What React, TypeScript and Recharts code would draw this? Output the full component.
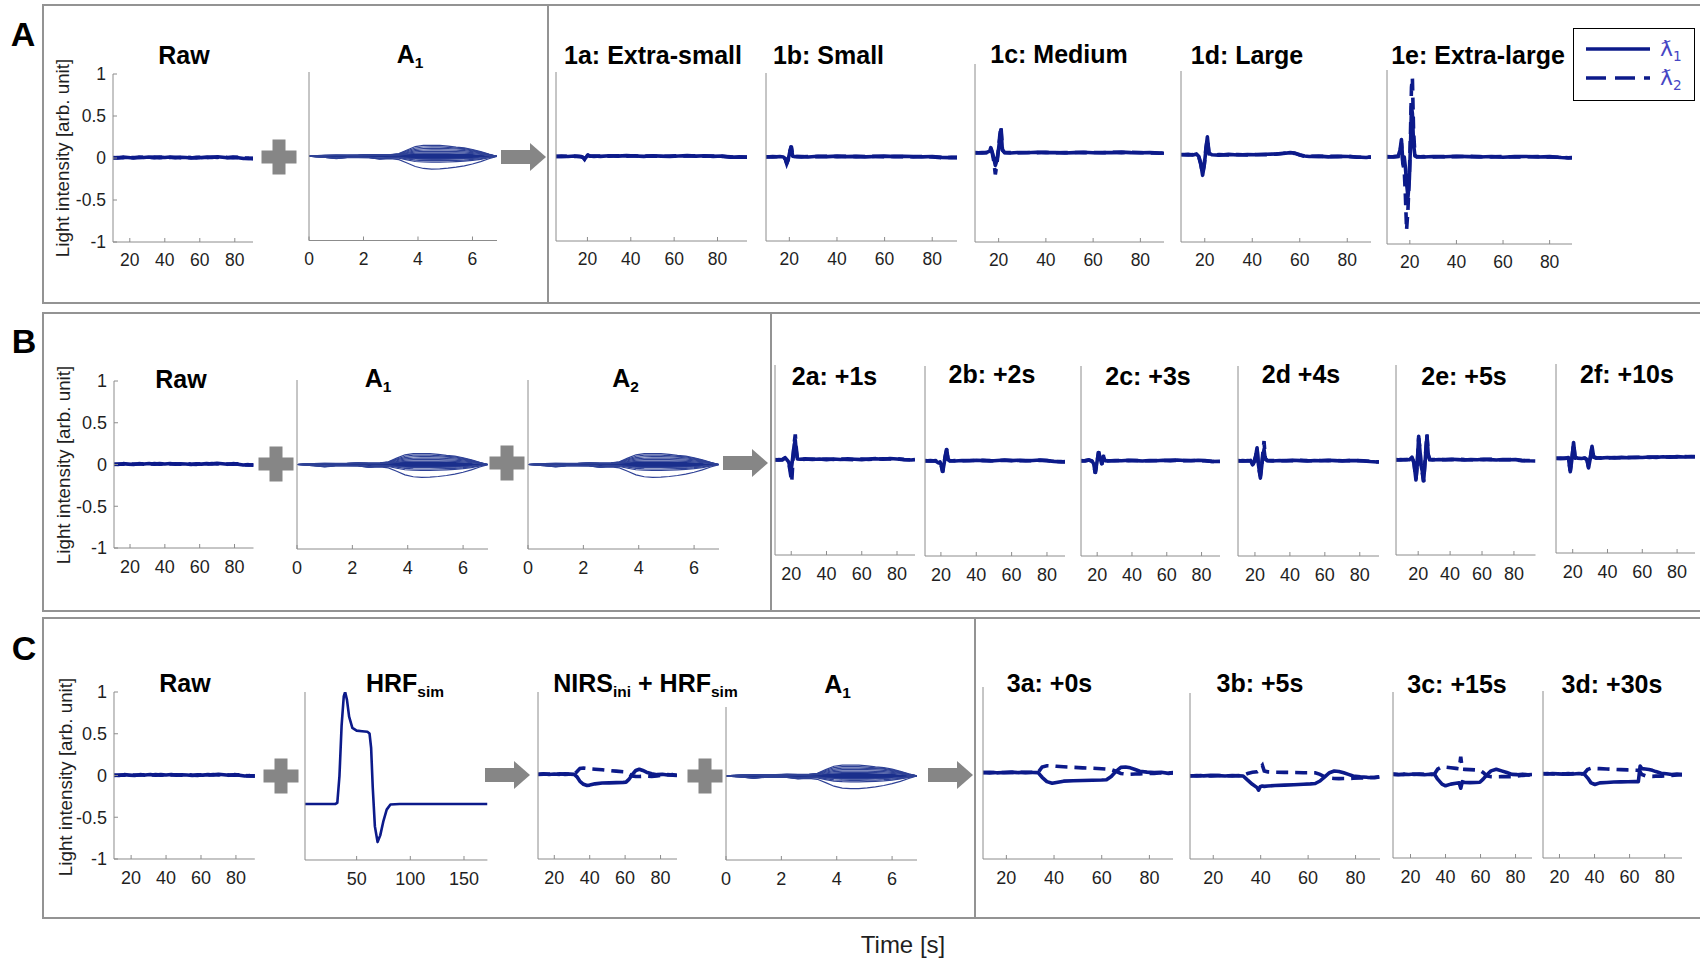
import React from 'react';
import { ComposedChart, Line, Area, XAxis, YAxis } from 'recharts';

const FONT = '"Liberation Sans", Arial, Helvetica, sans-serif';
const INK = '#0c1a8a';
const ENV_LINE = '#2f4296';
const ENV_CORE = '#1a2f8c';
const AXIS = '#8c8c8c';
const TICK_INK = '#1f1f1f';
const DECOR = '#868686';

// plot-area padding around each small axis box
const YW = 44;
const RM = 8;
const TM = 16;
const XH = 38;

const TICKS_20 = [20, 40, 60, 80];
const TICKS_A = [0, 2, 4, 6];
const TICKS_HRF = [50, 100, 150];
const Y_TICKS = [-1, -0.5, 0, 0.5, 1];

// ---- raw light intensity (same recording in rows A, B, C)
const RAW_T = [10, 13, 16, 19, 22, 25, 28, 31, 34, 37, 40, 43, 46, 49, 52, 55, 58, 61, 64, 67, 70, 73, 76, 79, 82, 85, 88, 91];
const RAW_L1 = [0.005, 0.0, 0.01, 0.005, 0.0, 0.01, 0.005, 0.012, 0.004, 0.01, 0.006, 0.012, 0.003, 0.009, 0.006, 0.0, 0.008, 0.004, 0.01, 0.006, 0.014, 0.008, 0.002, 0.01, 0.004, -0.006, -0.002, -0.008];
const RAW_L2 = [0.0, 0.006, 0.004, 0.01, 0.004, 0.006, 0.01, 0.004, 0.01, 0.004, 0.01, 0.006, 0.008, 0.004, 0.01, 0.004, 0.002, 0.01, 0.006, 0.012, 0.008, 0.01, 0.006, 0.004, 0.008, 0.0, -0.006, -0.004];

// ---- motion artifact amplitude A1 / A2 (time in s)
const A1_T = [0, 0.3, 0.6, 1.0, 1.4, 1.8, 2.2, 2.6, 3.0, 3.3, 3.6, 3.9, 4.2, 4.5, 4.8, 5.1, 5.4, 5.7, 6.0, 6.3, 6.6, 6.9];
const A1_U1 = [0, 0.008, 0.012, 0.014, 0.013, 0.015, 0.021, 0.018, 0.02, 0.032, 0.075, 0.115, 0.128, 0.13, 0.128, 0.12, 0.108, 0.1, 0.08, 0.055, 0.025, 0];
const A1_U2 = [0, 0.007, 0.011, 0.013, 0.012, 0.014, 0.019, 0.016, 0.018, 0.028, 0.064, 0.098, 0.11, 0.112, 0.111, 0.105, 0.097, 0.09, 0.072, 0.049, 0.022, 0];
const A1_U3 = [0, 0.006, 0.01, 0.012, 0.011, 0.012, 0.017, 0.014, 0.016, 0.024, 0.054, 0.082, 0.092, 0.094, 0.094, 0.09, 0.086, 0.08, 0.064, 0.043, 0.019, 0];
const A1_U4 = [0, 0.005, 0.009, 0.01, 0.01, 0.011, 0.015, 0.012, 0.014, 0.02, 0.044, 0.066, 0.074, 0.076, 0.076, 0.074, 0.071, 0.066, 0.054, 0.037, 0.016, 0];
const A1_U5 = [0, 0.005, 0.008, 0.009, 0.009, 0.01, 0.013, 0.011, 0.012, 0.017, 0.035, 0.051, 0.057, 0.058, 0.058, 0.057, 0.055, 0.051, 0.043, 0.03, 0.013, 0];
const A1_U6 = [0, 0.004, 0.007, 0.008, 0.008, 0.009, 0.011, 0.01, 0.011, 0.014, 0.026, 0.036, 0.04, 0.041, 0.041, 0.04, 0.039, 0.036, 0.031, 0.022, 0.01, 0];
const A1_D1 = [0, -0.006, -0.011, -0.019, -0.012, -0.01, -0.012, -0.021, -0.014, -0.014, -0.022, -0.03, -0.034, -0.035, -0.035, -0.034, -0.032, -0.03, -0.026, -0.019, -0.01, 0];
const A1_D2 = [0, -0.007, -0.013, -0.023, -0.014, -0.012, -0.014, -0.027, -0.018, -0.018, -0.032, -0.046, -0.051, -0.053, -0.053, -0.051, -0.049, -0.045, -0.038, -0.028, -0.014, 0];
const A1_D3 = [0, -0.008, -0.014, -0.026, -0.015, -0.013, -0.016, -0.031, -0.022, -0.024, -0.044, -0.062, -0.068, -0.07, -0.07, -0.068, -0.064, -0.058, -0.049, -0.036, -0.018, 0];
const A1_D4 = [0, -0.008, -0.015, -0.028, -0.016, -0.014, -0.017, -0.034, -0.028, -0.04, -0.08, -0.122, -0.145, -0.152, -0.15, -0.142, -0.13, -0.114, -0.092, -0.064, -0.03, 0];
const A1_LO = [0, -0.007, -0.012, -0.016, -0.013, -0.012, -0.013, -0.017, -0.015, -0.016, -0.025, -0.034, -0.039, -0.041, -0.041, -0.039, -0.036, -0.032, -0.026, -0.018, -0.009, 0];
const A1_HI = [0, 0.007, 0.011, 0.013, 0.012, 0.012, 0.016, 0.014, 0.015, 0.018, 0.026, 0.032, 0.035, 0.036, 0.036, 0.035, 0.033, 0.03, 0.026, 0.018, 0.009, 0];

// ---- 1a-1e: artifact size
const P1A_T = [5, 8, 11, 14, 16, 17, 18, 18.7, 19.5, 20.2, 21, 23, 26, 30, 34, 38, 42, 46, 50, 54, 58, 62, 66, 70, 74, 78, 82, 86, 90, 94];
const P1A_L1 = [0.0, 0.004, 0.0, 0.006, 0.002, 0.0, -0.01, -0.032, -0.005, 0.02, 0.004, 0.006, 0.002, 0.008, 0.004, 0.01, 0.006, 0.002, 0.008, 0.004, 0.0, 0.006, 0.01, 0.004, 0.008, 0.002, 0.006, -0.008, -0.004, -0.01];
const P1A_L2 = [0.002, 0.0, 0.004, 0.002, 0.0, -0.004, -0.012, -0.036, -0.008, 0.024, 0.006, 0.002, 0.006, 0.004, 0.008, 0.004, 0.008, 0.004, 0.006, 0.002, 0.004, 0.008, 0.006, 0.008, 0.004, 0.006, 0.002, -0.004, -0.008, -0.006];

const P1B_T = [10, 13, 16, 17.5, 18.3, 18.9, 19.5, 20.2, 20.8, 21.4, 22.5, 25, 28, 32, 36, 40, 44, 48, 52, 56, 60, 64, 68, 72, 76, 80, 84, 88, 90.5];
const P1B_L1 = [0.004, 0.0, 0.006, 0.0, -0.02, -0.075, -0.03, 0.06, 0.12, 0.01, 0.004, 0.006, 0.0, 0.008, 0.004, 0.01, 0.004, 0.008, 0.002, 0.006, 0.01, 0.004, 0.008, 0.006, 0.002, 0.006, -0.004, -0.008, -0.004];
const P1B_L2 = [0.0, 0.004, 0.002, -0.004, -0.025, -0.08, -0.035, 0.07, 0.13, 0.015, 0.006, 0.002, 0.006, 0.004, 0.008, 0.004, 0.008, 0.004, 0.006, 0.008, 0.004, 0.008, 0.004, 0.002, 0.006, 0.002, -0.008, -0.004, -0.008];

const P1C_T = [10, 13, 15, 16.2, 16.7, 17.3, 18, 18.6, 19.3, 20, 20.5, 21, 21.6, 22.5, 25, 28, 32, 36, 40, 44, 48, 52, 56, 60, 64, 68, 72, 76, 80, 84, 88, 90];
const P1C_L1 = [0.0, 0.004, 0.006, 0.02, 0.06, 0.01, -0.06, -0.14, -0.08, 0.05, 0.16, 0.26, 0.03, 0.004, 0.0, 0.006, 0.002, 0.008, 0.004, 0.006, 0.0, 0.004, 0.008, 0.002, 0.006, 0.004, 0.01, 0.004, 0.002, 0.006, 0.0, -0.002];
const P1C_L2 = [0.004, 0.0, 0.004, 0.015, 0.05, 0.0, -0.1, -0.24, -0.12, 0.06, 0.2, 0.3, 0.04, 0.006, 0.004, 0.002, 0.006, 0.004, 0.008, 0.002, 0.004, 0.006, 0.004, 0.006, 0.002, 0.008, 0.004, 0.008, 0.004, 0.002, -0.002, 0.0];

const P1D_T = [10, 13, 15, 16.5, 17.5, 18.3, 19.1, 19.8, 20.5, 21.1, 21.8, 23, 26, 30, 34, 38, 42, 46, 50, 53, 56, 58, 60, 62, 64, 68, 72, 76, 80, 84, 88, 90];
const P1D_L1 = [0.02, 0.025, 0.018, 0.03, 0.0, -0.08, -0.22, -0.1, 0.08, 0.23, 0.04, 0.02, 0.015, 0.025, 0.018, 0.022, 0.02, 0.026, 0.03, 0.035, 0.045, 0.04, 0.02, 0.005, 0.0, 0.004, -0.004, 0.002, 0.0, -0.006, -0.012, -0.004];
const P1D_L2 = [0.024, 0.018, 0.022, 0.025, -0.005, -0.09, -0.2, -0.09, 0.1, 0.21, 0.03, 0.018, 0.022, 0.018, 0.024, 0.018, 0.024, 0.022, 0.028, 0.038, 0.042, 0.036, 0.016, 0.002, 0.004, 0.0, 0.002, -0.002, 0.004, -0.008, -0.01, -0.008];

const P1E_T = [10, 13, 15, 15.8, 16.4, 17, 17.6, 18.1, 18.6, 19.2, 19.8, 20.3, 20.7, 21.1, 21.6, 22.2, 23, 26, 30, 35, 40, 45, 50, 55, 60, 65, 70, 75, 80, 85, 88, 90];
const P1E_L1 = [0.0, 0.004, 0.01, 0.08, 0.2, -0.06, 0.0, -0.12, -0.3, -0.46, -0.25, 0.15, 0.58, 0.5, 0.15, 0.01, 0.004, 0.0, 0.006, 0.002, 0.008, 0.004, 0.0, 0.006, -0.002, 0.004, 0.006, 0.0, 0.004, -0.006, -0.01, -0.006];
const P1E_L2 = [0.004, 0.0, 0.006, 0.06, 0.16, -0.08, -0.15, -0.45, -0.84, -0.6, -0.2, 0.3, 0.8, 0.91, 0.3, 0.02, 0.0, 0.004, 0.002, 0.006, 0.004, 0.008, 0.004, 0.002, 0.004, 0.0, 0.002, 0.004, 0.0, -0.004, -0.008, -0.008];

// ---- 2a-2f: second artifact delay
const P2A_T = [10.8, 13, 15, 16.5, 17.5, 18.5, 19.2, 19.7, 20.3, 21, 21.7, 22.3, 22.8, 23.5, 25, 28, 32, 36, 40, 44, 48, 52, 56, 60, 64, 68, 72, 76, 80, 84, 88, 90.2];
const P2A_L1 = [0.004, 0.0, 0.006, 0.025, 0.004, -0.02, -0.07, -0.12, -0.06, 0.05, 0.16, 0.21, 0.1, 0.01, 0.008, 0.012, 0.006, 0.01, 0.004, 0.01, 0.006, 0.012, 0.008, 0.004, 0.01, 0.014, 0.008, 0.016, 0.01, 0.004, 0.0, 0.004];
const P2A_L2 = [0.0, 0.004, 0.002, 0.02, 0.0, -0.03, -0.1, -0.16, -0.23, 0.0, 0.18, 0.27, 0.14, 0.012, 0.004, 0.008, 0.01, 0.006, 0.01, 0.006, 0.01, 0.006, 0.004, 0.01, 0.006, 0.01, 0.012, 0.01, 0.014, 0.006, 0.002, 0.0];

const P2B_T = [11, 14, 17, 18.5, 19.5, 20.3, 21, 21.7, 22.5, 23.3, 24, 25, 28, 32, 36, 40, 44, 48, 52, 56, 60, 64, 68, 72, 76, 80, 84, 88, 90.2];
const P2B_L1 = [0.0, 0.004, 0.0, -0.02, -0.01, -0.05, -0.11, -0.04, 0.05, 0.12, 0.02, 0.004, 0.0, 0.006, 0.002, 0.008, 0.004, 0.0, 0.006, 0.01, 0.004, 0.008, 0.002, 0.006, 0.01, 0.004, -0.004, -0.01, -0.006];
const P2B_L2 = [0.004, 0.0, 0.004, -0.015, -0.015, -0.06, -0.12, -0.03, 0.06, 0.13, 0.015, 0.0, 0.004, 0.002, 0.006, 0.004, 0.008, 0.004, 0.002, 0.008, 0.006, 0.004, 0.006, 0.002, 0.008, 0.006, -0.006, -0.006, -0.01];

const P2C_T = [10.7, 13, 15.3, 17, 18, 18.9, 19.8, 20.8, 21.8, 22.7, 23.6, 24.5, 26, 30, 34, 38, 42, 46, 50, 54, 58, 62, 66, 70, 74, 78, 82, 86, 90.6];
const P2C_L1 = [0.0, 0.004, 0.012, 0.0, -0.03, -0.12, -0.02, 0.09, 0.02, -0.03, 0.05, 0.004, 0.0, 0.006, 0.002, 0.008, 0.004, 0.0, 0.006, 0.002, 0.008, 0.004, 0.01, 0.006, 0.002, 0.008, 0.004, -0.006, -0.004];
const P2C_L2 = [0.004, 0.0, 0.01, -0.004, -0.035, -0.13, -0.03, 0.1, 0.025, -0.035, 0.06, 0.006, 0.004, 0.002, 0.006, 0.004, 0.006, 0.004, 0.002, 0.006, 0.004, 0.008, 0.006, 0.004, 0.006, 0.004, 0.002, -0.004, -0.008];

const P2D_T = [10.3, 13, 16, 17.5, 18.6, 19.6, 20.5, 21.2, 22, 23.1, 23.9, 24.6, 25.2, 25.9, 27, 30, 34, 38, 42, 46, 50, 54, 58, 62, 66, 70, 74, 78, 82, 86, 90, 91];
const P2D_L1 = [0.0, 0.004, 0.0, 0.006, -0.04, 0.0, 0.06, 0.14, -0.04, -0.18, -0.05, 0.06, 0.12, 0.02, 0.004, 0.0, 0.006, 0.002, 0.008, 0.004, 0.0, 0.006, 0.002, 0.008, 0.004, 0.0, 0.006, 0.004, 0.0, -0.006, -0.01, -0.008];
const P2D_L2 = [0.004, 0.0, 0.004, 0.002, -0.05, -0.01, 0.05, 0.13, -0.06, -0.16, -0.03, 0.1, 0.21, 0.03, 0.006, 0.004, 0.002, 0.006, 0.004, 0.008, 0.004, 0.002, 0.006, 0.004, 0.008, 0.002, 0.004, 0.006, 0.002, -0.004, -0.008, -0.01];

const P2E_T = [6, 9, 12, 14.5, 16.1, 17.3, 18.6, 19.4, 20.3, 21.1, 21.8, 22.6, 23.4, 24.4, 25.5, 26.3, 27.2, 29, 33, 37, 41, 45, 49, 53, 57, 61, 65, 69, 73, 77, 81, 85, 89, 93.5];
const P2E_L1 = [0.004, 0.0, 0.006, 0.002, 0.03, -0.02, -0.21, -0.05, 0.25, 0.1, -0.06, -0.12, -0.22, 0.0, 0.25, 0.06, 0.006, 0.0, 0.006, 0.002, 0.008, 0.004, 0.0, 0.006, 0.002, 0.008, 0.004, 0.0, 0.006, 0.002, 0.004, -0.004, -0.008, -0.01];
const P2E_L2 = [0.0, 0.004, 0.002, 0.006, 0.025, -0.03, -0.2, -0.04, 0.23, 0.12, -0.05, -0.14, -0.23, 0.02, 0.27, 0.05, 0.004, 0.006, 0.002, 0.006, 0.004, 0.008, 0.004, 0.002, 0.006, 0.004, 0.008, 0.004, 0.002, 0.006, 0.0, -0.008, -0.006, -0.006];

const P2F_T = [10.4, 13, 15.5, 17.5, 18.6, 19.6, 20.5, 21.4, 23, 25, 27, 28.2, 29.1, 30.1, 31.1, 32, 33.5, 36, 40, 44, 48, 52, 56, 60, 64, 68, 72, 76, 80, 84, 88, 90.3];
const P2F_L1 = [0.0, 0.004, 0.0, 0.01, -0.14, 0.0, 0.17, 0.01, 0.004, 0.0, 0.006, -0.01, -0.1, 0.0, 0.13, 0.02, 0.008, 0.004, 0.01, 0.006, 0.012, 0.008, 0.014, 0.01, 0.016, 0.012, 0.018, 0.014, 0.02, 0.016, 0.022, 0.018];
const P2F_L2 = [0.004, 0.0, 0.004, 0.006, -0.13, 0.01, 0.16, 0.004, 0.0, 0.006, 0.002, -0.015, -0.09, 0.01, 0.12, 0.015, 0.004, 0.008, 0.006, 0.01, 0.008, 0.012, 0.01, 0.014, 0.012, 0.016, 0.014, 0.018, 0.016, 0.02, 0.018, 0.02];

// ---- simulated haemodynamic response
const HRF_T = [2, 10, 20, 30, 32, 34, 36, 38, 39.3, 41, 43, 46, 50, 55, 60, 62, 63.5, 65, 67, 69.5, 72, 75, 78, 81.5, 90, 110, 130, 150, 172];
const HRF_V = [0, 0, 0, 0, 0.01, 0.25, 0.7, 0.96, 1.0, 0.93, 0.78, 0.68, 0.655, 0.65, 0.645, 0.63, 0.5, 0.15, -0.2, -0.34, -0.28, -0.15, -0.05, -0.005, 0, 0, 0, 0, 0];

const NIRS_T = [10.8, 14, 17, 20, 23, 26, 29, 31.3, 33, 34.5, 36.5, 38.5, 40, 43, 47, 51, 55, 59, 60.5, 62, 64, 66, 68, 70, 72, 75, 78, 81, 84, 87, 89.3];
const NIRS_L1 = [0.015, 0.02, 0.012, 0.018, 0.014, 0.02, 0.016, 0.014, -0.02, -0.07, -0.105, -0.12, -0.115, -0.1, -0.09, -0.088, -0.085, -0.082, -0.08, -0.05, 0.01, 0.06, 0.075, 0.06, 0.04, 0.02, 0.01, 0.014, 0.006, 0.01, 0.002];
const NIRS_L2 = [0.012, 0.016, 0.018, 0.012, 0.02, 0.014, 0.018, 0.016, 0.05, 0.085, 0.09, 0.085, 0.08, 0.075, 0.068, 0.06, 0.052, 0.045, 0.04, 0.02, -0.005, -0.01, -0.012, -0.01, -0.008, -0.01, -0.006, 0.004, 0.01, 0.004, 0.0];

// ---- 3a-3d: artifact onset relative to HRF
const P3A_T = [10, 13, 16, 19, 22, 25, 28, 31, 33.3, 35, 37, 39.2, 41, 44, 48, 52, 56, 60, 62, 64, 66, 68, 70, 72, 74, 76, 79, 82, 85, 88, 90];
const P3A_L1 = [0.004, 0.008, 0.002, 0.006, 0.01, 0.004, 0.008, 0.006, 0.004, -0.05, -0.1, -0.12, -0.11, -0.095, -0.09, -0.088, -0.085, -0.082, -0.078, -0.04, 0.02, 0.065, 0.07, 0.06, 0.04, 0.02, 0.01, 0.004, 0.008, -0.004, 0.0];
const P3A_L2 = [0.006, 0.002, 0.008, 0.004, 0.006, 0.01, 0.004, 0.008, 0.006, 0.07, 0.085, 0.082, 0.078, 0.072, 0.066, 0.06, 0.055, 0.05, 0.046, 0.04, 0.02, -0.005, -0.012, -0.014, -0.012, -0.01, -0.008, -0.004, 0.002, 0.0, 0.004];

const P3B_T = [10, 13, 16, 19, 22, 25, 28, 31, 32.6, 34.5, 36.5, 38.5, 39.1, 39.8, 40.7, 41.5, 43, 46, 50, 54, 58, 61, 63, 65, 67, 69, 71, 73, 75, 77, 79, 82, 85, 88, 90];
const P3B_L1 = [0.0, 0.006, 0.002, 0.008, 0.004, 0.0, 0.006, 0.002, 0.0, -0.05, -0.1, -0.14, -0.17, -0.13, -0.12, -0.125, -0.12, -0.115, -0.11, -0.105, -0.1, -0.095, -0.09, -0.06, -0.01, 0.04, 0.06, 0.055, 0.04, 0.02, 0.0, -0.01, -0.016, -0.02, -0.012];
const P3B_L2 = [0.004, 0.0, 0.006, 0.002, 0.006, 0.004, 0.0, 0.006, 0.008, 0.03, 0.045, 0.05, 0.06, 0.1, 0.13, 0.06, 0.05, 0.046, 0.044, 0.042, 0.04, 0.04, 0.038, 0.02, -0.01, -0.025, -0.03, -0.032, -0.03, -0.03, -0.028, -0.024, -0.02, -0.016, -0.01];

const P3C_T = [10, 13, 16, 19, 22, 25, 28, 31, 33.7, 35.5, 38, 40, 43, 46, 47.8, 48.7, 49.6, 51, 54, 57, 59.6, 61.5, 63.5, 66, 69, 72, 75, 78, 81, 84, 87, 89.4];
const P3C_L1 = [0.008, 0.004, 0.01, 0.006, 0.012, 0.008, 0.004, 0.01, 0.008, -0.05, -0.11, -0.13, -0.11, -0.1, -0.095, -0.16, -0.08, -0.09, -0.092, -0.09, -0.088, -0.05, 0.0, 0.05, 0.07, 0.05, 0.03, 0.008, 0.004, 0.01, 0.002, 0.006];
const P3C_L2 = [0.01, 0.006, 0.008, 0.012, 0.006, 0.01, 0.008, 0.006, 0.012, 0.07, 0.1, 0.095, 0.088, 0.08, 0.075, 0.22, 0.07, 0.068, 0.065, 0.062, 0.058, 0.03, -0.01, -0.02, -0.022, -0.02, -0.018, -0.02, -0.012, -0.004, 0.0, 0.004];

const P3D_T = [10.5, 13, 16, 19, 22, 25, 28, 31, 34, 36, 38, 40.2, 43, 47, 51, 55, 59, 63, 65, 66, 67, 69, 71, 73, 75, 78, 81, 84, 87, 90];
const P3D_L1 = [0.01, 0.006, 0.012, 0.008, 0.004, 0.01, 0.006, 0.012, 0.008, -0.04, -0.1, -0.12, -0.1, -0.095, -0.09, -0.088, -0.086, -0.085, -0.085, 0.1, 0.07, 0.065, 0.06, 0.05, 0.035, 0.015, 0.008, 0.0, 0.004, -0.002];
const P3D_L2 = [0.008, 0.012, 0.006, 0.01, 0.008, 0.004, 0.01, 0.006, 0.01, 0.06, 0.075, 0.072, 0.07, 0.066, 0.062, 0.058, 0.055, 0.052, 0.05, 0.03, 0.0, -0.015, -0.02, -0.022, -0.02, -0.02, -0.018, -0.01, -0.004, -0.002];

const trace = (t: number[], l1: number[], l2: number[]) =>
  t.map((x, i) => ({ t: x, l1: l1[i], l2: l2[i] }));

const RAW = trace(RAW_T, RAW_L1, RAW_L2);
const ENVELOPE = A1_T.map((x, i) => ({
  t: x,
  u1: A1_U1[i], u2: A1_U2[i], u3: A1_U3[i], u4: A1_U4[i], u5: A1_U5[i], u6: A1_U6[i],
  d1: A1_D1[i], d2: A1_D2[i], d3: A1_D3[i], d4: A1_D4[i],
  band: [A1_LO[i], A1_HI[i]],
}));
const ENV_KEYS = ['u1', 'u2', 'u3', 'u4', 'u5', 'u6', 'd1', 'd2', 'd3', 'd4'];
const HRF = HRF_T.map((x, i) => ({ t: x, v: HRF_V[i] }));

type Kind = 'trace' | 'envelope' | 'single';
interface PanelSpec {
  box: [number, number, number, number]; // axis x0, x1, y0 (top), y1 (bottom)
  x: [number, number];
  xt: number[];
  y?: [number, number];
  yt?: number[];
  yLabels?: boolean;
  fs: number;
  kind: Kind;
  data: any[];
}

const PANELS: PanelSpec[] = [
  // row A
  { box: [113, 253, 74, 242], x: [10.4, 90.4], xt: TICKS_20, yLabels: true, fs: 17.5, kind: 'trace', data: RAW },
  { box: [309, 497, 72, 240.5], x: [0, 6.9], xt: TICKS_A, fs: 17.5, kind: 'envelope', data: ENVELOPE },
  { box: [556, 747, 72, 241], x: [5.5, 93.6], xt: TICKS_20, fs: 17.5, kind: 'trace', data: trace(P1A_T, P1A_L1, P1A_L2) },
  { box: [766, 957, 73, 241], x: [10.2, 90.4], xt: TICKS_20, fs: 17.5, kind: 'trace', data: trace(P1B_T, P1B_L1, P1B_L2) },
  { box: [975, 1164, 64, 242], x: [10, 90], xt: TICKS_20, fs: 17.5, kind: 'trace', data: trace(P1C_T, P1C_L1, P1C_L2) },
  { box: [1181, 1371, 71, 242], x: [10, 90], xt: TICKS_20, fs: 17.5, kind: 'trace', data: trace(P1D_T, P1D_L1, P1D_L2) },
  { box: [1387, 1572, 70, 244], x: [10.2, 89.6], xt: TICKS_20, fs: 17.5, kind: 'trace', data: trace(P1E_T, P1E_L1, P1E_L2) },
  // row B
  { box: [113.5, 253, 381, 548], x: [10.8, 90.9], xt: TICKS_20, yLabels: true, fs: 18, kind: 'trace', data: RAW },
  { box: [297, 488, 380, 549], x: [0, 6.9], xt: TICKS_A, fs: 18, kind: 'envelope', data: ENVELOPE },
  { box: [528, 719, 380, 549], x: [0, 6.9], xt: TICKS_A, fs: 18, kind: 'envelope', data: ENVELOPE },
  { box: [775, 915, 365, 555], x: [10.8, 90.2], xt: TICKS_20, fs: 18, kind: 'trace', data: trace(P2A_T, P2A_L1, P2A_L2) },
  { box: [925, 1065, 366, 556], x: [11, 90.2], xt: TICKS_20, fs: 18, kind: 'trace', data: trace(P2B_T, P2B_L1, P2B_L2) },
  { box: [1081, 1220, 366, 556], x: [10.7, 90.6], xt: TICKS_20, fs: 18, kind: 'trace', data: trace(P2C_T, P2C_L1, P2C_L2) },
  { box: [1238, 1379, 366, 556], x: [10.3, 91], xt: TICKS_20, fs: 18, kind: 'trace', data: trace(P2D_T, P2D_L1, P2D_L2) },
  { box: [1395.5, 1535, 365, 555], x: [6.1, 93.5], xt: TICKS_20, fs: 18, kind: 'trace', data: trace(P2E_T, P2E_L1, P2E_L2) },
  { box: [1556, 1695, 364, 553], x: [10.4, 90.3], xt: TICKS_20, fs: 18, kind: 'trace', data: trace(P2F_T, P2F_L1, P2F_L2) },
  // row C
  { box: [113.6, 254.4, 692, 859], x: [10.2, 90.8], xt: TICKS_20, yLabels: true, fs: 18, kind: 'trace', data: RAW },
  { box: [305, 487.4, 692, 860], x: [1.9, 171.8], xt: TICKS_HRF, y: [-0.5, 1], yt: [0, 0.5], fs: 18, kind: 'single', data: HRF },
  { box: [538, 677, 692, 859], x: [10.8, 89.3], xt: TICKS_20, fs: 18, kind: 'trace', data: trace(NIRS_T, NIRS_L1, NIRS_L2) },
  { box: [726, 917, 707, 860], x: [0, 6.9], xt: TICKS_A, y: [-1, 0.82], yt: [-0.5, 0.5], fs: 18, kind: 'envelope', data: ENVELOPE },
  { box: [983, 1173, 687, 859], x: [10.2, 89.9], xt: TICKS_20, fs: 18, kind: 'trace', data: trace(P3A_T, P3A_L1, P3A_L2) },
  { box: [1190, 1380, 693, 859], x: [10.2, 90.3], xt: TICKS_20, fs: 18, kind: 'trace', data: trace(P3B_T, P3B_L1, P3B_L2) },
  { box: [1393, 1532, 692, 858], x: [10, 89.4], xt: TICKS_20, fs: 18, kind: 'trace', data: trace(P3C_T, P3C_L1, P3C_L2) },
  { box: [1543, 1682, 691, 858], x: [10.6, 89.9], xt: TICKS_20, fs: 18, kind: 'trace', data: trace(P3D_T, P3D_L1, P3D_L2) },
];

type Part = [string, boolean?];
const TITLES: { parts: Part[]; x: number; y: number }[] = [
  { parts: [['Raw']], x: 184, y: 54.5 },
  { parts: [['A'], ['1', true]], x: 410, y: 54 },
  { parts: [['1a: Extra-small']], x: 653, y: 55 },
  { parts: [['1b: Small']], x: 828.5, y: 55 },
  { parts: [['1c: Medium']], x: 1059, y: 53.5 },
  { parts: [['1d: Large']], x: 1247, y: 55 },
  { parts: [['1e: Extra-large']], x: 1478, y: 55 },
  { parts: [['Raw']], x: 181, y: 378.5 },
  { parts: [['A'], ['1', true]], x: 378, y: 378 },
  { parts: [['A'], ['2', true]], x: 625.5, y: 378 },
  { parts: [['2a: +1s']], x: 834.5, y: 376 },
  { parts: [['2b: +2s']], x: 992, y: 374 },
  { parts: [['2c: +3s']], x: 1148, y: 376 },
  { parts: [['2d +4s']], x: 1301, y: 374 },
  { parts: [['2e: +5s']], x: 1464, y: 376 },
  { parts: [['2f: +10s']], x: 1627, y: 374 },
  { parts: [['Raw']], x: 185, y: 683 },
  { parts: [['HRF'], ['sim', true]], x: 405, y: 683 },
  { parts: [['NIRS'], ['ini', true], [' + HRF'], ['sim', true]], x: 645.5, y: 683 },
  { parts: [['A'], ['1', true]], x: 837.5, y: 684 },
  { parts: [['3a: +0s']], x: 1049.5, y: 682.5 },
  { parts: [['3b: +5s']], x: 1260, y: 683 },
  { parts: [['3c: +15s']], x: 1457, y: 684 },
  { parts: [['3d: +30s']], x: 1612, y: 684 },
];

const ROW_LETTERS = [
  { s: 'A', x: 23, y: 34 },
  { s: 'B', x: 24, y: 341 },
  { s: 'C', x: 24, y: 648 },
];
const Y_LABELS = [
  { x: 63, y: 158 },
  { x: 64, y: 464.5 },
  { x: 66, y: 777 },
];
const FRAMES = [
  { top: 5, bottom: 303, split: 548 },
  { top: 313, bottom: 611, split: 771 },
  { top: 618, bottom: 918, split: 975 },
];
const PLUSES = [[279, 157], [276, 464], [507, 463], [281, 776], [705, 776]];
const ARROWS = [[501, 157], [723, 463], [485, 775], [928, 775]];

function Panel({ p }: { p: PanelSpec }) {
  const [x0, x1, y0, y1] = p.box;
  const width = x1 - x0 + YW + RM;
  const height = y1 - y0 + TM + XH;
  const tickFont = { fill: TICK_INK, fontSize: p.fs, fontFamily: FONT };
  return (
    <div style={{ position: 'absolute', left: x0 - YW, top: y0 - TM }}>
      <ComposedChart
        width={width}
        height={height}
        data={p.data}
        margin={{ top: TM, right: RM, bottom: 0, left: 0 }}
      >
        <XAxis
          dataKey="t"
          type="number"
          domain={p.x}
          ticks={p.xt}
          interval={0}
          allowDataOverflow
          height={XH}
          stroke={AXIS}
          tickSize={-4}
          tickMargin={16}
          tick={tickFont}
        />
        <YAxis
          type="number"
          domain={p.y ?? [-1, 1]}
          ticks={p.yt ?? Y_TICKS}
          interval={0}
          allowDataOverflow
          width={YW}
          stroke={AXIS}
          tickSize={-4}
          tickMargin={11}
          tick={p.yLabels ? tickFont : false}
        />
        {p.kind === 'envelope' && (
          <Area
            dataKey="band"
            type="linear"
            stroke="none"
            fill={ENV_CORE}
            fillOpacity={1}
            isAnimationActive={false}
          />
        )}
        {p.kind === 'envelope' &&
          ENV_KEYS.map((k) => (
            <Line
              key={k}
              dataKey={k}
              type="linear"
              stroke={ENV_LINE}
              strokeWidth={1.2}
              dot={false}
              activeDot={false}
              isAnimationActive={false}
            />
          ))}
        {p.kind === 'trace' && (
          <Line
            dataKey="l2"
            type="linear"
            stroke={INK}
            strokeWidth={3.6}
            strokeDasharray="12 7"
            dot={false}
            activeDot={false}
            isAnimationActive={false}
          />
        )}
        {p.kind === 'trace' && (
          <Line
            dataKey="l1"
            type="linear"
            stroke={INK}
            strokeWidth={3.6}
            strokeLinejoin="round"
            dot={false}
            activeDot={false}
            isAnimationActive={false}
          />
        )}
        {p.kind === 'single' && (
          <Line
            dataKey="v"
            type="linear"
            stroke={INK}
            strokeWidth={2.6}
            strokeLinejoin="round"
            dot={false}
            activeDot={false}
            isAnimationActive={false}
          />
        )}
      </ComposedChart>
    </div>
  );
}

function Title({ parts, x, y }: { parts: Part[]; x: number; y: number }) {
  return (
    <div
      style={{
        position: 'absolute',
        left: x,
        top: y,
        transform: 'translate(-50%, -50%)',
        fontFamily: FONT,
        fontWeight: 'bold',
        fontSize: 25,
        lineHeight: 1,
        whiteSpace: 'nowrap',
        color: '#000',
      }}
    >
      {parts.map(([s, sub], i) =>
        sub ? (
          <span key={i} style={{ fontSize: '0.62em', position: 'relative', top: '0.35em' }}>{s}</span>
        ) : (
          <span key={i}>{s}</span>
        )
      )}
    </div>
  );
}

function Decorations() {
  return (
    <svg width={1700} height={958} style={{ position: 'absolute', left: 0, top: 0, pointerEvents: 'none' }}>
      {FRAMES.map((f, i) => (
        <g key={i} stroke="#939393" strokeWidth={2} fill="none">
          <rect x={43} y={f.top} width={1700} height={f.bottom - f.top} />
          <line x1={f.split} y1={f.top} x2={f.split} y2={f.bottom} />
        </g>
      ))}
      {PLUSES.map(([cx, cy], i) => (
        <g key={i} fill={DECOR}>
          <rect x={cx - 17.5} y={cy - 6.5} width={35} height={13} />
          <rect x={cx - 6.5} y={cy - 17.5} width={13} height={35} />
        </g>
      ))}
      {ARROWS.map(([x, cy], i) => (
        <g key={i} fill={DECOR}>
          <rect x={x} y={cy - 7} width={30} height={14} />
          <polygon points={`${x + 29},${cy - 14} ${x + 45},${cy} ${x + 29},${cy + 14}`} />
        </g>
      ))}
    </svg>
  );
}

function Legend() {
  const lam = { fontFamily: '"DejaVu Sans", ' + FONT, fontSize: 22, color: '#4646c4', lineHeight: 1 };
  return (
    <div
      style={{
        position: 'absolute',
        left: 1573,
        top: 28,
        width: 122,
        height: 73,
        border: '1.5px solid #000',
        boxSizing: 'border-box',
        background: '#fff',
      }}
    >
      <svg width={80} height={70} style={{ position: 'absolute', left: 0, top: 0 }}>
        <line x1={12} y1={20} x2={76} y2={20} stroke={INK} strokeWidth={3.5} />
        <line x1={12} y1={49} x2={76} y2={49} stroke={INK} strokeWidth={3.5} strokeDasharray="20 9" />
      </svg>
      <div style={{ ...lam, position: 'absolute', left: 86, top: 9 }}>
        ƛ<span style={{ fontSize: '0.62em', position: 'relative', top: '0.35em' }}>1</span>
      </div>
      <div style={{ ...lam, position: 'absolute', left: 86, top: 38 }}>
        ƛ<span style={{ fontSize: '0.62em', position: 'relative', top: '0.35em' }}>2</span>
      </div>
    </div>
  );
}

export default function App() {
  return (
    <div
      style={{
        position: 'absolute',
        left: 0,
        top: 0,
        width: 1700,
        height: 958,
        overflow: 'hidden',
        background: '#fff',
        fontFamily: FONT,
      }}
    >
      {PANELS.map((p, i) => (
        <Panel key={i} p={p} />
      ))}
      {TITLES.map((t, i) => (
        <Title key={i} {...t} />
      ))}
      {ROW_LETTERS.map((l) => (
        <div
          key={l.s}
          style={{
            position: 'absolute',
            left: l.x,
            top: l.y,
            transform: 'translate(-50%, -50%)',
            fontWeight: 'bold',
            fontSize: 34,
            lineHeight: 1,
          }}
        >
          {l.s}
        </div>
      ))}
      {Y_LABELS.map((l, i) => (
        <div
          key={i}
          style={{
            position: 'absolute',
            left: l.x,
            top: l.y,
            transform: 'translate(-50%, -50%) rotate(-90deg)',
            fontSize: 18.8,
            lineHeight: 1,
            whiteSpace: 'nowrap',
            color: TICK_INK,
          }}
        >
          Light intensity [arb. unit]
        </div>
      ))}
      <div
        style={{
          position: 'absolute',
          left: 903,
          top: 945,
          transform: 'translate(-50%, -50%)',
          fontSize: 24,
          lineHeight: 1,
          color: TICK_INK,
        }}
      >
        Time [s]
      </div>
      <Legend />
      <Decorations />
    </div>
  );
}
